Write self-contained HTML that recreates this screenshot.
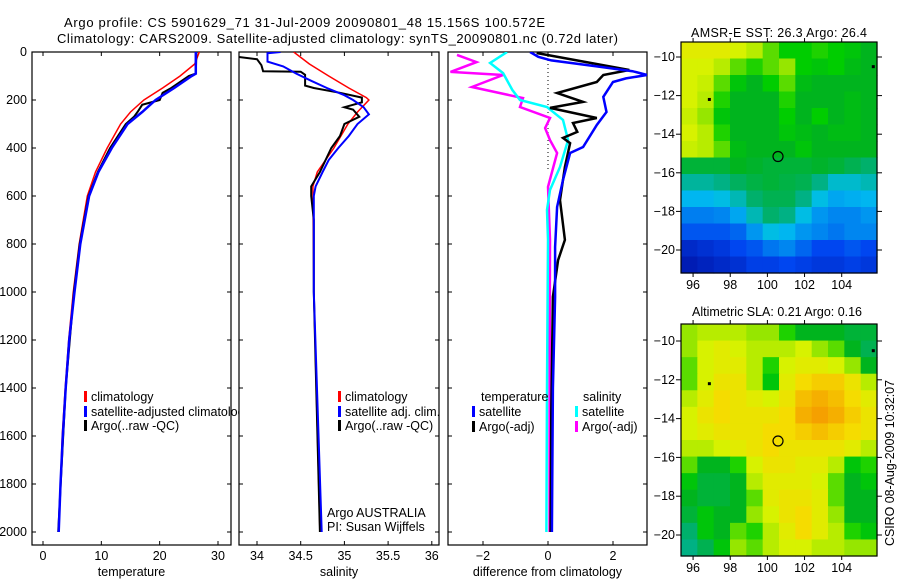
<!DOCTYPE html>
<html><head><meta charset="utf-8"><style>
body{margin:0;background:#fff;}
svg{display:block;font-family:"Liberation Sans",sans-serif;}
text{fill:#000;}
</style></head><body>
<svg id="fig" width="900" height="580" viewBox="0 0 900 580">
<rect x="0" y="0" width="900" height="580" fill="#fff"/>
<text x="64" y="27" font-size="13" textLength="481">Argo profile: CS 5901629_71 31-Jul-2009 20090801_48 15.156S 100.572E</text>
<text x="57" y="43" font-size="13" textLength="561">Climatology: CARS2009. Satellite-adjusted climatology: synTS_20090801.nc (0.72d later)</text>
<defs>
<clipPath id="c1"><rect x="32" y="52" width="199" height="493"/></clipPath>
<clipPath id="c2"><rect x="239" y="52" width="200" height="493"/></clipPath>
<clipPath id="c3"><rect x="448" y="52" width="199" height="493"/></clipPath>
</defs>
<g id="g1"></g>
<g id="g2"></g>
<g id="g3"></g>
<g id="m1"></g>
<g id="m2"></g>
<text x="779" y="37" font-size="12.5" text-anchor="middle" textLength="176">AMSR-E SST: 26.3 Argo: 26.4</text>
<text x="777" y="316" font-size="12.5" text-anchor="middle" textLength="170">Altimetric SLA: 0.21 Argo: 0.16</text>
<text transform="translate(894,463) rotate(-90)" font-size="12.5" text-anchor="middle" textLength="166">CSIRO 08-Aug-2009 10:32:07</text>
</svg>
<script>
// ---------- data ----------
const depthTicks=[0,200,400,600,800,1000,1200,1400,1600,1800,2000];
const tempTicks=[0,10,20,30];
const salTicks=[34,34.5,35,35.5,36];
const diffTicks=[-2,0,2];
const tempClimDepth=[0,50,100,150,200,250,300,400,500,600,800,1000,1200,1400,1600,1800,2000];
const tempClimVal=[26.8,26.0,23.5,20.5,17.3,15.0,13.3,11.0,9.0,7.6,6.2,5.2,4.4,3.8,3.3,3.0,2.7];
const tempSatDepth=[0,90,100,150,200,250,300,400,500,600,800,1000,1200,1400,1600,1800,2000];
const tempSatVal=[26.2,26.2,25.5,22.5,19.3,17.0,14.5,11.8,9.5,7.9,6.4,5.4,4.5,3.9,3.4,3.0,2.7];
const tempArgoDepth=[0,90,100,150,170,200,220,250,270,300,400,500,600,800,1000,1400,2000];
const tempArgoVal=[26.3,26.2,25.0,22.0,20.5,20.0,17.0,16.2,15.6,14.2,11.5,9.4,7.8,6.3,5.3,3.9,2.6];
const salClimDepth=[0,50,100,150,190,200,250,300,400,500,560,1000,2000];
const salClimVal=[34.42,34.6,34.82,35.05,35.25,35.28,35.15,35.04,34.88,34.69,34.64,34.65,34.72];
const salSatDepth=[0,5,40,60,90,120,150,180,200,230,260,300,350,400,450,500,560,600,1000,2000];
const salSatVal=[34.27,34.12,34.12,34.3,34.45,34.62,34.8,35.0,35.1,35.22,35.28,35.15,35.05,34.93,34.82,34.75,34.67,34.65,34.65,34.74];
const salArgoDepth=[0,20,30,55,80,82,95,140,150,170,190,210,230,240,270,300,350,400,500,560,600,700,1000,2000];
const salArgoVal=[33.77,33.77,34.0,34.05,34.07,34.5,34.55,34.55,34.65,34.95,35.2,35.2,35.0,35.1,35.17,35.0,34.95,34.85,34.72,34.62,34.62,34.65,34.65,34.72];
const dTSatDepth=[0,20,35,60,80,96,110,125,187,250,304,396,421,533,646,812,1020,1400,2000];
const dTSatVal=[-0.55,-0.3,0.1,1.5,2.6,3.05,2.4,2.0,1.7,1.8,1.5,1.08,0.68,0.46,0.28,0.22,0.22,0.15,0.12];
const dTArgoDepth=[4,75,96,125,171,208,233,275,296,333,358,380,479,617,783,867,1020,1500,2000];
const dTArgoVal=[-0.35,2.5,1.7,1.5,0.28,1.08,0.06,1.5,0.77,0.9,0.46,0.68,0.52,0.37,0.52,0.31,0.15,0.1,0.08];
const dSSatDepth=[0,46,88,158,200,229,283,367,479,575,658,783,1400,2000];
const dSSatVal=[-1.26,-1.78,-1.38,-1.1,-0.86,-0.03,0.46,0.62,0.37,0.06,-0.03,0.0,-0.03,-0.05];
const dSArgoDepth=[12,42,83,96,146,192,229,275,317,367,421,562,783,1400,2000];
const dSArgoVal=[-2.8,-2.2,-3.0,-1.38,-2.34,-0.77,-0.86,0.06,-0.09,0.06,0.28,0.0,0.06,0.05,0.05];
const lonTicks=[96,98,100,102,104];
const latTicks=[-10,-12,-14,-16,-18,-20];
const sstGrid=[
[0.66,0.66,0.66,0.64,0.62,0.58,0.55,0.55,0.56,0.55,0.54,0.52],
[0.64,0.64,0.62,0.58,0.56,0.58,0.6,0.55,0.54,0.55,0.53,0.52],
[0.64,0.63,0.58,0.54,0.52,0.55,0.58,0.53,0.52,0.52,0.52,0.52],
[0.64,0.62,0.56,0.52,0.52,0.52,0.56,0.52,0.52,0.52,0.53,0.52],
[0.63,0.6,0.54,0.52,0.52,0.52,0.55,0.52,0.55,0.52,0.53,0.52],
[0.64,0.62,0.56,0.52,0.52,0.52,0.54,0.53,0.52,0.53,0.53,0.52],
[0.63,0.62,0.58,0.53,0.52,0.52,0.52,0.54,0.52,0.52,0.52,0.52],
[0.5,0.5,0.5,0.52,0.51,0.5,0.5,0.5,0.51,0.5,0.48,0.46],
[0.42,0.42,0.44,0.47,0.49,0.5,0.49,0.48,0.44,0.38,0.38,0.4],
[0.34,0.34,0.36,0.4,0.46,0.48,0.48,0.44,0.36,0.32,0.33,0.34],
[0.27,0.27,0.28,0.32,0.4,0.46,0.44,0.36,0.3,0.28,0.28,0.3],
[0.22,0.22,0.22,0.24,0.3,0.36,0.34,0.3,0.28,0.26,0.28,0.28],
[0.12,0.14,0.16,0.2,0.22,0.26,0.28,0.24,0.2,0.2,0.22,0.2],
[0.08,0.1,0.12,0.14,0.18,0.18,0.2,0.18,0.16,0.16,0.18,0.16]];
const slaGrid=[
[0.6,0.62,0.62,0.62,0.6,0.6,0.56,0.52,0.52,0.52,0.5,0.5],
[0.6,0.64,0.66,0.64,0.62,0.62,0.62,0.64,0.6,0.58,0.52,0.48],
[0.58,0.64,0.66,0.66,0.62,0.56,0.64,0.66,0.66,0.64,0.6,0.52],
[0.58,0.64,0.68,0.68,0.62,0.54,0.66,0.7,0.72,0.72,0.68,0.62],
[0.62,0.66,0.7,0.68,0.66,0.64,0.68,0.74,0.76,0.74,0.7,0.66],
[0.64,0.68,0.7,0.68,0.68,0.68,0.7,0.76,0.78,0.76,0.72,0.68],
[0.64,0.66,0.68,0.68,0.68,0.7,0.7,0.72,0.74,0.72,0.7,0.68],
[0.62,0.62,0.64,0.66,0.68,0.7,0.68,0.68,0.68,0.68,0.66,0.62],
[0.58,0.52,0.52,0.56,0.64,0.68,0.68,0.66,0.66,0.62,0.54,0.56],
[0.54,0.5,0.5,0.52,0.62,0.66,0.66,0.66,0.64,0.58,0.52,0.54],
[0.52,0.5,0.5,0.52,0.58,0.66,0.68,0.68,0.66,0.58,0.52,0.52],
[0.5,0.54,0.52,0.52,0.6,0.64,0.68,0.7,0.66,0.6,0.52,0.52],
[0.46,0.54,0.52,0.58,0.56,0.62,0.66,0.7,0.66,0.62,0.56,0.54],
[0.44,0.48,0.54,0.6,0.58,0.62,0.64,0.64,0.62,0.62,0.6,0.6]];
const floatLon=100.572, floatLat=-15.156;

// ---------- helpers ----------
const NS='http://www.w3.org/2000/svg';
function mk(tag,attrs,parent){const e=document.createElementNS(NS,tag);for(const k in attrs)e.setAttribute(k,attrs[k]);parent.appendChild(e);return e;}
const yD=d=>52+d*0.24;
const x1=v=>43+v*5.833;
const x2=v=>257+(v-34)*87.4;
const x3=v=>548+v*32.5;

function panel(g,x0,w,clip,xf,ticks,tickFmt,xlabel,showY){
  const bg=mk('rect',{x:x0,y:52,width:w,height:493,fill:'#fff',stroke:'#000','stroke-width':1.2},g);
  
  
  depthTicks.forEach(d=>{
    const y=yD(d);
    mk('line',{x1:x0,y1:y,x2:x0+4,y2:y,stroke:'#000'},g);
    mk('line',{x1:x0+w-4,y1:y,x2:x0+w,y2:y,stroke:'#000'},g);
    if(showY){const t=mk('text',{x:27,y:y+4,'font-size':12.5,'text-anchor':'end'},g);t.textContent=d;
      
      }
  });
  ticks.forEach(v=>{
    const x=xf(v);
    mk('line',{x1:x,y1:52,x2:x,y2:56,stroke:'#000'},g);
    mk('line',{x1:x,y1:541,x2:x,y2:545,stroke:'#000'},g);
    const t=mk('text',{x:x,y:560,'font-size':12.5,'text-anchor':'middle'},g);t.textContent=tickFmt(v);
    
    
  });
  const xl=mk('text',{x:x0+w/2,y:576,'font-size':12.5,'text-anchor':'middle'},g);xl.textContent=xlabel;
  
  
}
function line(g,clip,xf,depths,vals,color,width,name){
  const pts=depths.map((d,i)=>xf(vals[i]).toFixed(1)+','+yD(d).toFixed(1)).join(' ');
  const p=mk('polyline',{points:pts,fill:'none',stroke:color,'stroke-width':width,'clip-path':'url(#'+clip+')','stroke-linejoin':'miter'},g);
  
  
}
function legendEntry(g,x,y,color,label,name){
  mk('rect',{x:x,y:y-6,width:3,height:11,fill:color},g);
  const t=mk('text',{x:x+7,y:y+4,'font-size':12.5},g);t.textContent=label;
  
  
}

// panel 1
const g1=document.getElementById('g1');
panel(g1,32,199,'c1',x1,tempTicks,v=>v,'temperature',true);
line(g1,'c1',x1,tempClimDepth,tempClimVal,'#f00',1.5,'temp-climatology-line');
line(g1,'c1',x1,tempArgoDepth,tempArgoVal,'#000',2,'temp-argo-line');
line(g1,'c1',x1,tempSatDepth,tempSatVal,'#00f',2.5,'temp-satellite-line');
legendEntry(g1,84,397,'#f00','climatology','legend-climatology');
legendEntry(g1,84,412,'#00f','satellite-adjusted climatology','legend-satellite-adjusted');
legendEntry(g1,84,426,'#000','Argo(..raw -QC)','legend-argo');

// panel 2
const g2=document.getElementById('g2');
panel(g2,239,200,'c2',x2,salTicks,v=>v,'salinity',false);
line(g2,'c2',x2,salClimDepth,salClimVal,'#f00',1.5,'sal-climatology-line');
line(g2,'c2',x2,salArgoDepth,salArgoVal,'#000',2,'sal-argo-line');
line(g2,'c2',x2,salSatDepth,salSatVal,'#00f',2,'sal-satellite-line');
legendEntry(g2,338,397,'#f00','climatology','legend-climatology');
legendEntry(g2,338,412,'#00f','satellite adj. clim.','legend-satellite-adj');
legendEntry(g2,338,426,'#000','Argo(..raw -QC)','legend-argo');
let tt=mk('text',{x:327,y:517,'font-size':12.5},g2);tt.textContent='Argo AUSTRALIA';


tt=mk('text',{x:327,y:531,'font-size':12.5},g2);tt.textContent='PI: Susan Wijffels';



// panel 3
const g3=document.getElementById('g3');
panel(g3,448,199,'c3',x3,diffTicks,v=>v<0?'\u2212'+(-v):v,'difference from climatology',false);
mk('line',{x1:x3(0),y1:52,x2:x3(0),y2:yD(500),stroke:'#000','stroke-dasharray':'1,3'},g3);
line(g3,'c3',x3,dSArgoDepth,dSArgoVal,'#f0f',2.5,'sal-argo-diff-line');
line(g3,'c3',x3,dSSatDepth,dSSatVal,'#0ff',2.5,'sal-satellite-diff-line');
line(g3,'c3',x3,dTArgoDepth,dTArgoVal,'#000',2.5,'temp-argo-diff-line');
line(g3,'c3',x3,dTSatDepth,dTSatVal,'#00f',2.5,'temp-satellite-diff-line');
tt=mk('text',{x:481,y:401,'font-size':12.5},g3);tt.textContent='temperature';


tt=mk('text',{x:583,y:401,'font-size':12.5},g3);tt.textContent='salinity';


legendEntry(g3,472,412,'#00f','satellite','legend-temp-satellite');
legendEntry(g3,472,427,'#000','Argo(-adj)','legend-temp-argo');
legendEntry(g3,575,412,'#0ff','satellite','legend-sal-satellite');
legendEntry(g3,575,427,'#f0f','Argo(-adj)','legend-sal-argo');

// maps
const cstops=[[0,[0,0,140]],[0.2,[0,70,240]],[0.35,[0,190,240]],[0.45,[0,175,120]],[0.52,[0,180,30]],[0.55,[0,205,0]],[0.6,[150,230,0]],[0.64,[215,242,0]],[0.7,[245,220,0]],[0.78,[245,160,0]],[1,[240,0,0]]];
function cmap(v){
  for(let i=1;i<cstops.length;i++){if(v<=cstops[i][0]){const a=cstops[i-1],b=cstops[i];const t=(v-a[0])/(b[0]-a[0]);
    const c=a[1].map((q,k)=>Math.round(q+(b[1][k]-q)*t));return 'rgb('+c.join(',')+')';}}
  return 'rgb(240,0,0)';
}
function map(id,top,bottom,grid){
  const g=document.getElementById(id);
  const L=681,R=877,lon0=95.35,lon1=105.9;
  const yLat=top===42?(la=>57+(-10-la)*19.3):(la=>341+(-10-la)*19.4);
  const xLon=lo=>L+(lo-lon0)*(R-L)/(lon1-lon0);
  const rows=grid.length,cols=grid[0].length;
  const cw=(R-L)/cols,ch=(bottom-top)/rows;
  grid.forEach((row,r)=>row.forEach((v,c)=>{
    const rc=mk('rect',{x:(L+c*cw).toFixed(2),y:(top+r*ch).toFixed(2),width:(cw+0.6).toFixed(2),height:(ch+0.6).toFixed(2),fill:cmap(v)},g);
    
    
  }));
  mk('rect',{x:L,y:top,width:R-L,height:bottom-top,fill:'none',stroke:'#000','stroke-width':1.2},g);
  latTicks.forEach(la=>{const y=yLat(la);
    mk('line',{x1:L-5,y1:y,x2:L,y2:y,stroke:'#000'},g);
    mk('line',{x1:R,y1:y,x2:R+5,y2:y,stroke:'#000'},g);
    const t=mk('text',{x:675,y:y+4,'font-size':12.5,'text-anchor':'end'},g);t.textContent='\u2212'+(-la);
    
    });
  lonTicks.forEach(lo=>{const x=xLon(lo);
    mk('line',{x1:x,y1:bottom,x2:x,y2:bottom+4,stroke:'#000'},g);
    mk('line',{x1:x,y1:top-4,x2:x,y2:top,stroke:'#000'},g);
    const t=mk('text',{x:x,y:bottom+16,'font-size':12.5,'text-anchor':'middle'},g);t.textContent=lo;
    
    });
  const ci=mk('circle',{cx:xLon(floatLon),cy:yLat(floatLat),r:5,fill:'none',stroke:'#000','stroke-width':1.2},g);
  
  
  mk('rect',{x:xLon(96.85)-1,y:yLat(-12.2)-1.5,width:3,height:3,fill:'#000'},g);
  mk('rect',{x:xLon(105.7)-1.5,y:yLat(-10.5)-1.5,width:3,height:3,fill:'#000'},g);
}
map('m1',42,273,sstGrid);
map('m2',324,556,slaGrid);
</script>
</body></html>
